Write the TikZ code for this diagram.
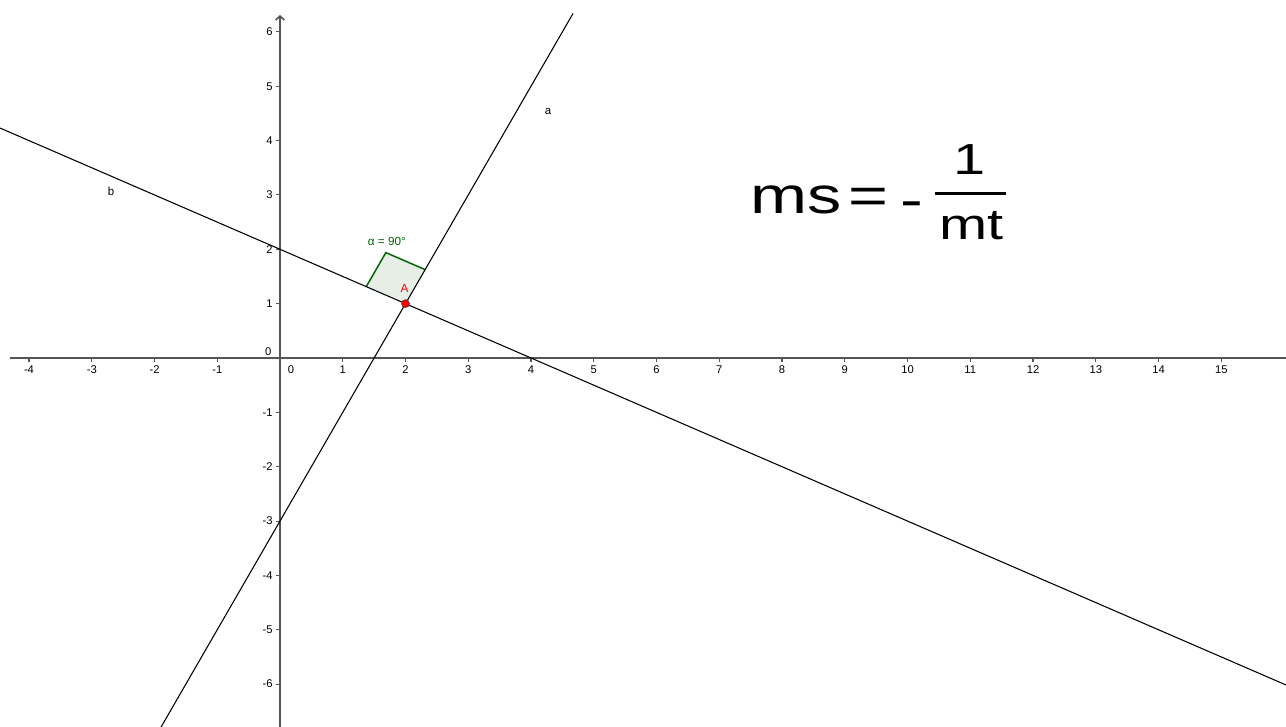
\documentclass[tikz,border=0pt]{standalone}
\usepackage{fontspec}
\setmainfont{Liberation Sans}
\usetikzlibrary{arrows.meta}
\definecolor{axisgray}{HTML}{555555}
\definecolor{anggreen}{RGB}{0,100,0}
\definecolor{angfill}{HTML}{E6EEE6}
\definecolor{ptred}{RGB}{255,0,0}
\begin{document}
\begin{tikzpicture}[x=47.0625pt,y=40.7625pt,
  axisline/.style={axisgray,line width=1.2pt},
  tickmark/.style={axisgray,line width=0.8pt},
  ticklab/.style={font=\fontsize{8.4}{10}\selectfont,inner sep=0pt},
  geoline/.style={black,line width=0.8pt},
  linelab/.style={font=\fontsize{8.6}{10}\selectfont,inner sep=0pt},
  bigtext/.style={font=\fontsize{38.6}{40}\selectfont,xscale=1.33,inner sep=0pt},
  fractext/.style={font=\fontsize{32.6}{34}\selectfont,xscale=1.33,inner sep=0pt}]
\useasboundingbox (-4.4622,-6.7893) rectangle (16.0319,6.5869);
% axes
\coordinate (xleft) at (-4.303,0);
\coordinate (xright) at (16.04,0);
\coordinate (ybot) at (0,-6.80);
\coordinate (ytop) at (0,6.311);
\draw[axisline] (xleft) -- (xright);
\draw[axisline,-{Straight Barb[length=3pt,width=6.5pt]}] (ybot) -- (ytop);
\foreach \i [count=\k] in {-4,-3,-2,-1,1,2,3,4,5,6,7,8,9,10,11,12,13,14,15} {
  \draw[tickmark] (\i,0) -- (\i,-0.0736);
  \node[ticklab,anchor=base] (xl\k) at (\i,-0.285) {\i};
}
\foreach \j [count=\k] in {-6,-5,-4,-3,-2,-1,1,2,3,4,5,6} {
  \draw[tickmark] (0,\j) -- (-0.0637,\j);
  \node[ticklab,anchor=east] (yl\k) at (-0.112,\j) {\j};
}
\node[ticklab,anchor=base] (xzero) at (0.175,-0.285) {0};
\node[ticklab,anchor=base] (yzero) at (-0.186,0.037) {0};
% right angle mark
\coordinate (A0) at (2,1);
\coordinate (P1) at (1.374,1.313);
\coordinate (P2) at (1.687,1.939);
\coordinate (P3) at (2.313,1.626);
\fill[angfill] (A0) -- (P1) -- (P2) -- (P3) -- cycle;
\draw[anggreen,line width=1.1pt] (P1) -- (P2) -- (P3);
\node[font=\fontsize{8.8}{10}\selectfont,text=anggreen,inner sep=0pt] (alpha) at (1.702,2.153) {α = 90°};
% lines
\coordinate (a1) at (-1.90,-6.80);
\coordinate (a2) at (4.67,6.34);
\coordinate (b1) at (-4.4622,4.2311);
\coordinate (b2) at (16.0319,-6.016);
\draw[geoline] (a1) -- (a2);
\draw[geoline] (b1) -- (b2);
\node[linelab] (la) at (4.271,4.544) {a};
\node[linelab] (lb) at (-2.693,3.073) {b};
% point A
\node[circle,fill=ptred,draw=black!75,line width=0.4pt,minimum size=6pt,inner sep=0pt] (A) at (A0) {};
\node[font=\fontsize{8.8}{10}\selectfont,text=ptred,inner sep=0pt] (Alab) at (1.984,1.279) {A};
% formula
\node[bigtext,anchor=base west] (ms) at (7.498,2.662) {ms};
\node[bigtext,anchor=base] (eq) at (9.386,2.662) {=};
\node[bigtext,anchor=base] (minus) at (10.072,2.59) {-};
\coordinate (fl) at (10.438,3.030);
\coordinate (fr) at (11.570,3.030);
\draw[black,line width=2.2pt] (fl) -- (fr);
\node[fractext,anchor=base] (one) at (10.996,3.367) {1};
\node[fractext,anchor=base] (mt) at (11.023,2.184) {mt};
\end{tikzpicture}
\end{document}
